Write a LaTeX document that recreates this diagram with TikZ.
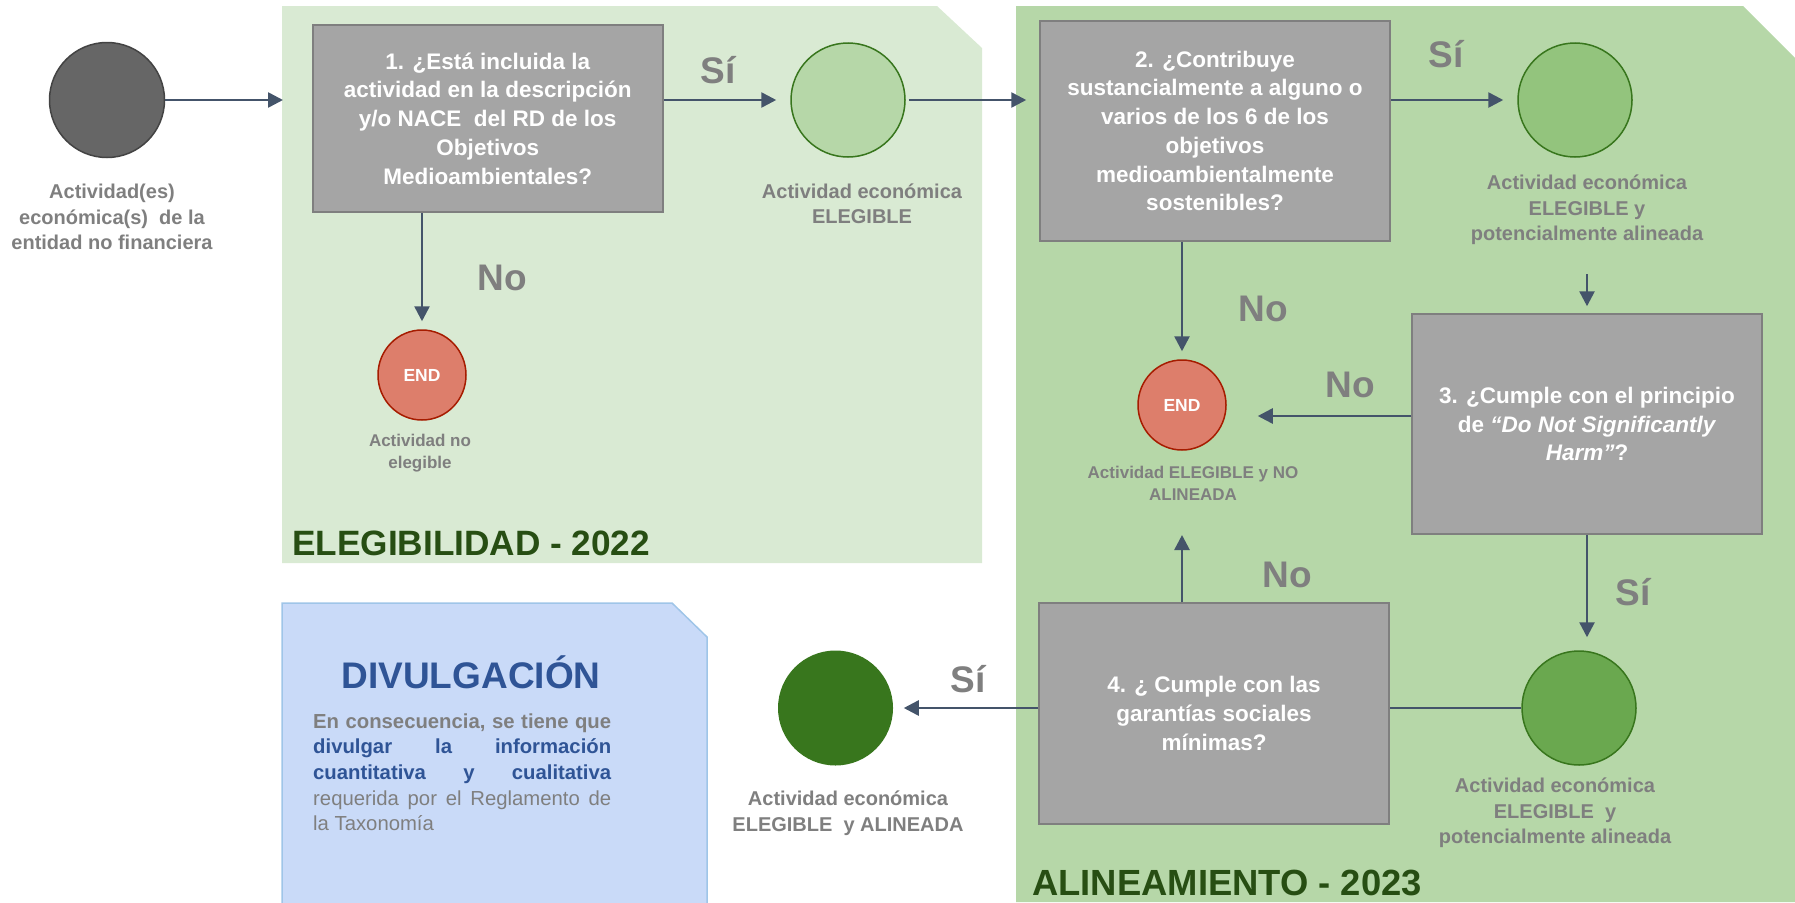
\documentclass[tikz,border=0pt]{standalone}
\usepackage{fontspec}
\setmainfont{Liberation Sans}
\usetikzlibrary{arrows.meta,calc}
\definecolor{elegfill}{HTML}{D9EAD3}
\definecolor{alinfill}{HTML}{B6D7A8}
\definecolor{boxfill}{HTML}{A5A5A5}
\definecolor{boxline}{HTML}{7F7F7F}
\definecolor{txtgray}{HTML}{7F7F7F}
\definecolor{arrowc}{HTML}{44546A}
\definecolor{dgreen}{HTML}{274E13}
\definecolor{startfill}{HTML}{666666}
\definecolor{startline}{HTML}{434343}
\definecolor{green}{HTML}{38761D}
\definecolor{lgreen}{HTML}{93C47D}
\definecolor{mgreen}{HTML}{6AA84F}
\definecolor{endfill}{HTML}{DD7E6B}
\definecolor{endline}{HTML}{A61C00}
\definecolor{divfill}{HTML}{C9DAF8}
\definecolor{divline}{HTML}{9FC5E8}
\definecolor{divblue}{HTML}{2F5496}
\tikzset{
  qbox/.style={rectangle, fill=boxfill, draw=boxline, line width=1.5pt, inner sep=0pt,
    minimum width=350pt, text=white, align=center,
    font=\bfseries\fontsize{22.5}{28.7}\selectfont},
  dot/.style={circle, inner sep=0pt, minimum size=114pt, line width=1.5pt},
  endc/.style={ellipse, inner sep=0pt, minimum width=88pt, minimum height=90pt, fill=endfill, draw=endline,
    line width=1.5pt, text=white, font=\bfseries\fontsize{17.5}{19}\selectfont},
  lbl/.style={text=txtgray, align=center, inner sep=0pt,
    font=\bfseries\fontsize{20}{25.5}\selectfont},
  slbl/.style={text=txtgray, align=center, inner sep=0pt,
    font=\bfseries\fontsize{17}{22}\selectfont},
  yn/.style={text=txtgray, inner sep=0pt, anchor=base,
    font=\bfseries\fontsize{37}{40}\selectfont},
  ttl/.style={text=dgreen, inner sep=0pt, anchor=base west,
    font=\bfseries\fontsize{35.2}{38}\selectfont},
  bodyl/.style={inner sep=0pt, anchor=base west, font=\fontsize{20.3}{25}\selectfont},
  arr/.style={draw=arrowc, line width=2.6pt, -{Triangle[length=15pt,width=15pt]}},
  plain/.style={draw=arrowc, line width=2.6pt}
}
\usetikzlibrary{shapes.geometric}
\begin{document}
\begin{tikzpicture}[x=1pt,y=-1pt]
\useasboundingbox (0,0) rectangle (1795,902);
% panels
\fill[elegfill] (282,6) -- (937,6) -- (982,48) -- (982,563) -- (282,563) -- cycle;
\fill[alinfill] (1016,6) -- (1743,6) -- (1795,58) -- (1795,902) -- (1016,902) -- cycle;
\draw[fill=divfill, draw=divline, line width=1.5pt] (282,603) -- (672,603) -- (707,637) -- (707,915) -- (282,915) -- cycle;

% titles
\node[ttl] (t1) at (292,555) {ELEGIBILIDAD - 2022};
\node[ttl, font=\bfseries\fontsize{36.4}{38}\selectfont] (t2) at (1032,895) {ALINEAMIENTO - 2023};
\node[inner sep=0pt, anchor=base, text=divblue, font=\bfseries\fontsize{37}{40}\selectfont] (t3) at (471,688) {DIVULGACIÓN};

% body text
\node[bodyl] (b1) at (313,728) {\makebox[298pt][s]{\bfseries\color{txtgray}En consecuencia, se tiene que}};
\node[bodyl] (b2) at (313,753) {\makebox[298pt][s]{\bfseries\color{divblue}divulgar la información}};
\node[bodyl] (b3) at (313,779) {\makebox[298pt][s]{\bfseries\color{divblue}cuantitativa y cualitativa}};
\node[bodyl] (b4) at (313,805) {\makebox[298pt][s]{\color{txtgray}requerida por el Reglamento de}};
\node[bodyl, text=txtgray] (b5) at (313,830) {la Taxonomía};

% question boxes
\node[qbox, minimum height=187pt] (box1) at (487.75,118.5)
  {1. ¿Está incluida la\\actividad en la descripción\\y/o NACE\ \ del RD de los\\Objetivos\\Medioambientales?};
\node[qbox, minimum height=220pt] (box2) at (1215,131)
  {2. ¿Contribuye\\sustancialmente a alguno o\\varios de los 6 de los\\objetivos\\medioambientalmente\\sostenibles?};
\node[qbox, minimum height=220pt] (box3) at (1587,424)
  {3. ¿Cumple con el principio\\de \textit{“Do Not Significantly}\\\textit{Harm”}?};
\node[qbox, minimum height=221pt] (box4) at (1214,713.5)
  {4. ¿ Cumple con las\\garantías sociales\\mínimas?};

% circles
\node[dot, minimum size=115pt, fill=startfill, draw=startline] (c0) at (107,100) {};
\node[dot, fill=alinfill, draw=green] (c1) at (848,100) {};
\node[dot, fill=lgreen, draw=green] (c3) at (1575,100) {};
\node[dot, fill=mgreen, draw=green] (c4) at (1579,708) {};
\node[dot, minimum size=115pt, fill=green] (c5) at (835.5,708) {};
\node[endc] (end1) at (422,375) {\raisebox{-7pt}{END}};
\node[endc] (end2) at (1182,405) {\raisebox{-7pt}{END}};

% labels
\node[lbl] (l0) at (112,217) {Actividad(es)\\económica(s)\ \ de la\\entidad no financiera};
\node[lbl] (l1) at (862,204) {Actividad económica\\ELEGIBLE};
\node[lbl] (l3) at (1587,210) {Actividad económica\\ELEGIBLE y\\potencialmente alineada};
\node[lbl] (l4) at (1555,813) {Actividad económica\\ELEGIBLE\ \ y\\potencialmente alineada};
\node[lbl] (l5) at (848,813) {Actividad económica\\ELEGIBLE\ \ y ALINEADA};
\node[slbl] (le1) at (420,453) {Actividad no\\elegible};
\node[slbl] (le2) at (1193,483) {Actividad ELEGIBLE y NO\\ALINEADA};

% yes / no
\node[yn] (s1) at (718,83) {Sí};
\node[yn] (n1) at (502,290) {No};
\node[yn] (s2) at (1446,67) {Sí};
\node[yn] (n2) at (1263,321) {No};
\node[yn] (n3) at (1350,397) {No};
\node[yn] (s3) at (1633,605) {Sí};
\node[yn] (n4) at (1287,587) {No};
\node[yn] (s4) at (968,692) {Sí};

% free ends
\coordinate (a3top) at (1587,274);
\coordinate (e2lab) at (1182,535);

% connectors
\draw[arr, shorten >=29pt] (c0.east) -- (box1.west |- c0.east);
\draw[arr, shorten >=14pt] (box1.east |- c1.west) -- (c1.west);
\draw[arr, shorten >=13pt, shorten <=3pt] (c1.east) -- (box2.west |- c1.east);
\draw[arr, shorten >=14pt] (box2.east |- c3.west) -- (c3.west);
\draw[arr, shorten >=7pt] (a3top) -- (box3.north);
\draw[arr, shorten >=8pt] (box1.south -| end1.north) -- (end1.north);
\draw[arr, shorten >=8pt] (box2.south -| end2.north) -- (end2.north);
\draw[arr, shorten >=31pt] ([yshift=8pt]box3.west) -- ([yshift=8pt]box3.west -| end2.east);
\draw[arr, shorten >=13pt] (box3.south) -- (box3.south |- c4.north);
\draw[plain] (c4.west) -- (c4.west -| box4.east);
\draw[arr] (box4.north -| e2lab) -- (e2lab);
\draw[arr, shorten >=10pt] (box4.west |- c5.east) -- (c5.east);
\end{tikzpicture}
\end{document}
